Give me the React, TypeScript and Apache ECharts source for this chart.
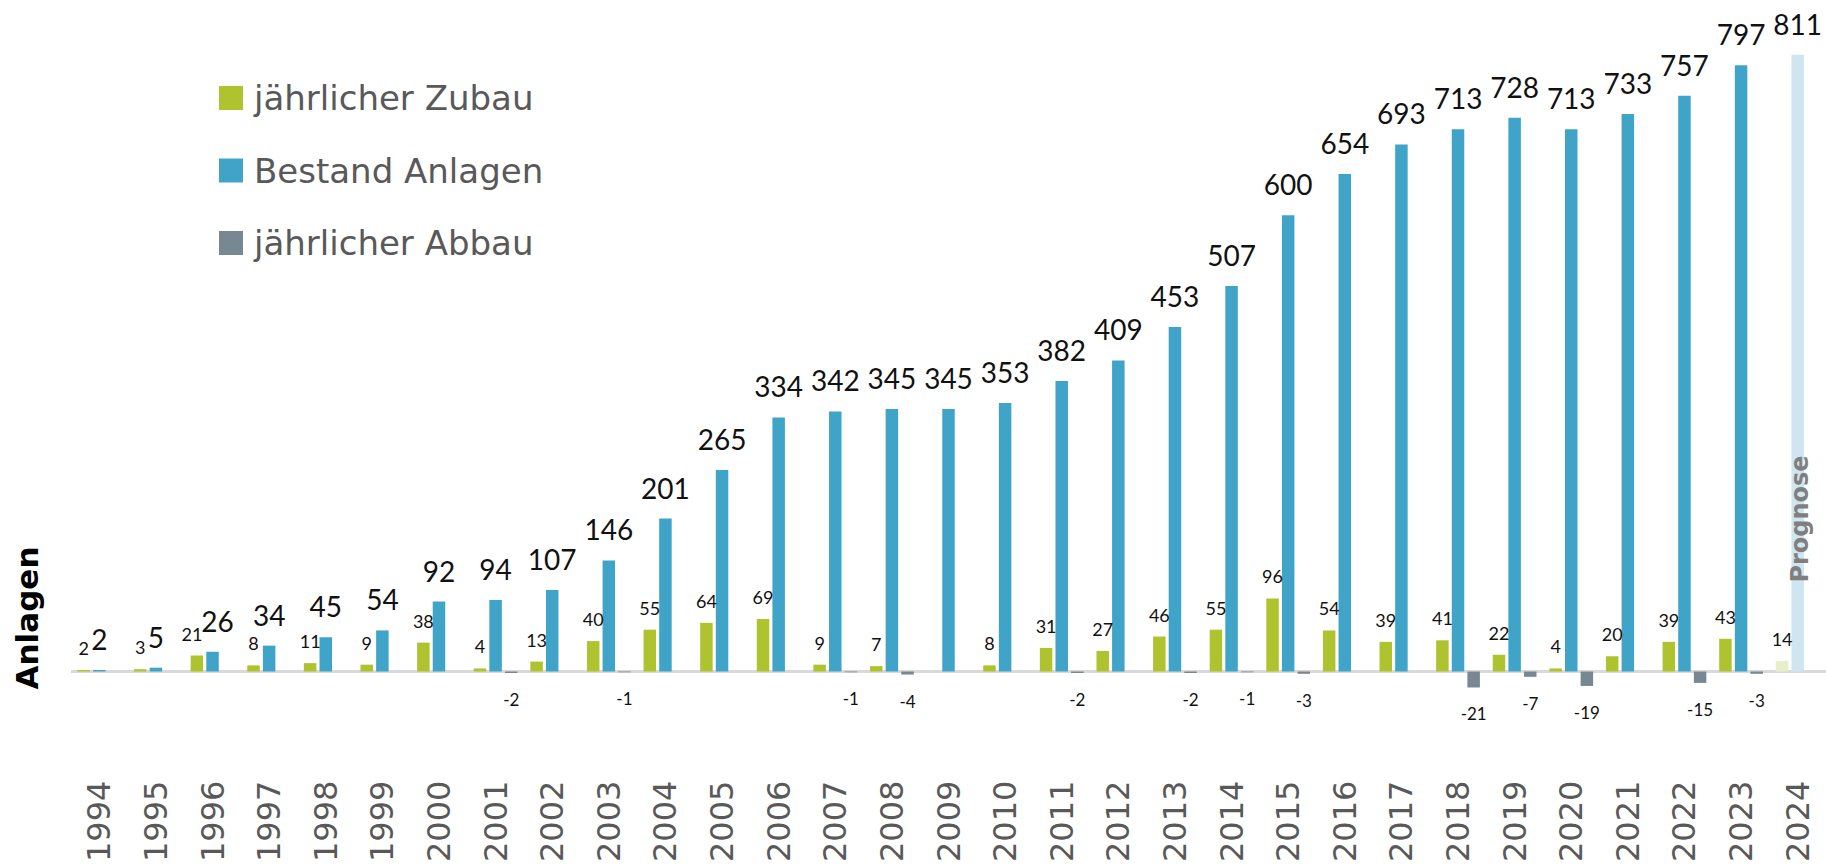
import React, { useEffect, useRef } from "react";
import * as echarts from "echarts";

const years = ["1994","1995","1996","1997","1998","1999","2000","2001","2002","2003","2004","2005","2006","2007","2008","2009","2010","2011","2012","2013","2014","2015","2016","2017","2018","2019","2020","2021","2022","2023","2024"];
const zubau = [2,3,21,8,11,9,38,4,13,40,55,64,69,9,7,null,8,31,27,46,55,96,54,39,41,22,4,20,39,43,14];
const bestand = [2,5,26,34,45,54,92,94,107,146,201,265,334,342,345,345,353,382,409,453,507,600,654,693,713,728,713,733,757,797,811];
const abbau = [null,null,null,null,null,null,null,-2,null,-1,null,null,null,-1,-4,null,null,-2,null,-2,-1,-3,null,null,-21,-7,-19,null,-15,-3,null];
const prognoseYear = "2024";

const GREEN = "#aec32e";
const GREEN_LIGHT = "#e8eec8";
const BLUE = "#40a4c8";
const BLUE_LIGHT = "#cfe6f0";
const GRAY = "#778893";
const FONT = "DejaVu Sans";
const LABEL_FONT = "Lato";

export default function App() {
  const ref = useRef<HTMLDivElement>(null);
  useEffect(() => {
    if (!ref.current) return;
    const chart = echarts.init(ref.current, null, { renderer: "svg" });
    const pIdx = years.indexOf(prognoseYear);
    // categories where the Zubau and Bestand labels sit almost at the same height
    const crowded = (i: number) =>
      zubau[i] != null && bestand[i] > 10 && bestand[i] - (zubau[i] as number) < 8;
    const mk = (arr: (number | null)[], light: string, shift: number) =>
      arr.map((v, i) => {
        if (v == null) return v;
        const item: any = { value: v };
        if (i === pIdx) item.itemStyle = { color: light };
        if (crowded(i)) item.label = { offset: [shift, 0] };
        return item;
      });
    chart.setOption({
      animation: false,
      backgroundColor: "#ffffff",
      grid: { left: 71, top: 25, width: 1759, height: 724 },
      legend: {
        orient: "vertical",
        left: 219,
        top: 81,
        padding: 0,
        itemWidth: 24,
        itemHeight: 24,
        itemGap: 38.5,
        icon: "rect",
        selectedMode: false,
        textStyle: { fontFamily: FONT, fontSize: 34, color: "#595959", lineHeight: 34, padding: [0, 0, 0, 6] },
        data: ["jährlicher Zubau", "Bestand Anlagen", "jährlicher Abbau"],
      },
      xAxis: {
        type: "category",
        data: years,
        axisLine: { show: false },
        axisTick: { show: false },
        axisLabel: { rotate: 90, margin: 33, fontFamily: FONT, fontSize: 32, color: "#595959", interval: 0 },
      },
      yAxis: { type: "value", min: -100, max: 850, show: false },
      graphic: [
        {
          type: "text",
          x: 27,
          y: 618,
          rotation: Math.PI / 2,
          style: { text: "Anlagen", fontFamily: FONT, fontWeight: "bold", fontSize: 31, fill: "#000", align: "center", verticalAlign: "middle" },
        },
        {
          type: "text",
          x: 1800,
          y: 519,
          rotation: Math.PI / 2,
          z: 100,
          style: { text: "Prognose", fontFamily: FONT, fontWeight: "bold", fontSize: 24, fill: "#7f7f7f", align: "center", verticalAlign: "middle" },
        },
      ],
      series: [
        {
          name: "jährlicher Zubau",
          type: "bar",
          z: 3,
          barWidth: 12.5,
          barGap: "25%",
          itemStyle: { color: GREEN },
          label: { show: true, position: "top", distance: 13, fontFamily: LABEL_FONT, fontSize: 18, color: "#111" },
          data: mk(zubau, GREEN_LIGHT, -5),
        },
        {
          name: "Bestand Anlagen",
          type: "bar",
          z: 3,
          barWidth: 12.5,
          barGap: "25%",
          itemStyle: { color: BLUE },
          label: { show: true, position: "top", distance: 17, fontFamily: LABEL_FONT, fontSize: 28, color: "#111" },
          data: mk(bestand, BLUE_LIGHT, 5),
          markLine: {
            silent: true,
            z: 1,
            symbol: "none",
            label: { show: false },
            lineStyle: { color: "#d9d9d9", width: 3, type: "solid" },
            data: [{ yAxis: 0 }],
          },
        },
        {
          name: "jährlicher Abbau",
          type: "bar",
          z: 3,
          barWidth: 12.5,
          barGap: "25%",
          itemStyle: { color: GRAY },
          label: { show: true, position: "bottom", distance: 18, fontFamily: LABEL_FONT, fontSize: 17, color: "#111" },
          data: abbau,
        },
      ],
    });
    return () => chart.dispose();
  }, []);
  return <div ref={ref} style={{ position: "absolute", left: 0, top: 0, width: 1826, height: 865 }} />;
}
